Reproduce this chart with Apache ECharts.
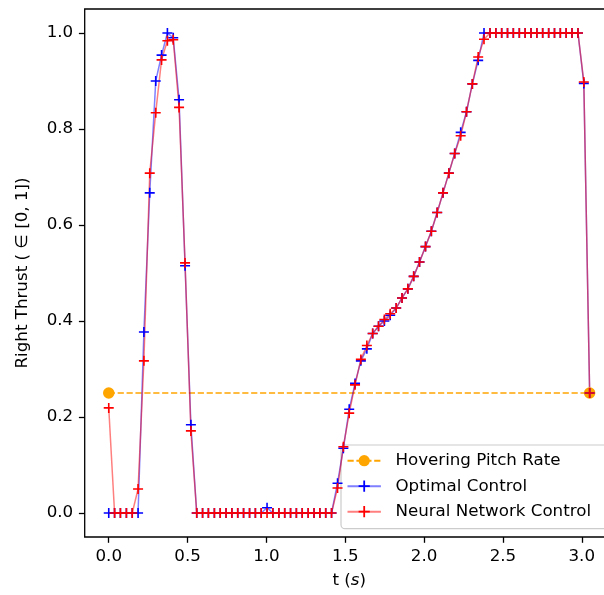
<!DOCTYPE html>
<html>
<head>
<meta charset="utf-8">
<script src="https://cdn.jsdelivr.net/npm/echarts@6/dist/echarts.min.js"></script>
<style>
html,body{margin:0;padding:0;background:#fff;}
#c{width:604px;height:595px;}
</style>
</head>
<body>
<div id="c"></div>
<script>
// time grid (s)
const tValues = [0.000,0.037,0.074,0.112,0.149,0.186,0.223,0.260,0.298,0.335,
 0.372,0.409,0.446,0.484,0.521,0.558,0.595,0.632,0.670,0.707,
 0.744,0.781,0.818,0.855,0.893,0.930,0.967,1.004,1.041,1.079,
 1.116,1.153,1.190,1.227,1.265,1.302,1.339,1.376,1.413,1.451,
 1.488,1.525,1.562,1.599,1.637,1.674,1.711,1.748,1.785,1.823,
 1.860,1.897,1.934,1.971,2.009,2.046,2.083,2.120,2.157,2.194,
 2.232,2.269,2.306,2.343,2.380,2.418,2.455,2.492,2.529,2.566,
 2.604,2.641,2.678,2.715,2.752,2.790,2.827,2.864,2.901,2.938,
 2.976,3.013,3.050];

const optimalControl = [0,0,0,0,0,0,0.377,0.667,0.900,0.954,
 1.000,0.990,0.861,0.515,0.184,0,0,0,0,0,
 0,0,0,0,0,0,0,0.011,0,0,
 0,0,0,0,0,0,0,0,0,0.062,
 0.135,0.216,0.270,0.317,0.342,0.374,0.389,0.400,0.412,0.427,
 0.448,0.467,0.493,0.523,0.555,0.587,0.626,0.667,0.708,0.749,
 0.793,0.836,0.894,0.943,1.000,1,1,1,1,1,
 1,1,1,1,1,1,1,1,1,1,
 1,0.895,0.250];

const neuralNetworkControl = [0.219,0,0,0,0,0.050,0.317,0.708,0.834,0.944,
 0.984,0.986,0.845,0.521,0.171,0,0,0,0,0,
 0,0,0,0,0,0,0,0,0,0,
 0,0,0,0,0,0,0,0,0,0.052,
 0.138,0.208,0.267,0.320,0.349,0.374,0.389,0.403,0.415,0.427,
 0.448,0.467,0.493,0.523,0.555,0.587,0.626,0.667,0.708,0.749,
 0.786,0.836,0.894,0.950,0.987,1,1,1,1,1,
 1,1,1,1,1,1,1,1,1,1,
 1,0.898,0.250];

const hoverT = [0.0, 3.05];
const hoverValue = [0.25, 0.25];

const xTicks = [0.0, 0.5, 1.0, 1.5, 2.0, 2.5, 3.0];
const yTicks = [0.0, 0.2, 0.4, 0.6, 0.8, 1.0];

const seriesNames = ['Hovering Pitch Rate', 'Optimal Control', 'Neural Network Control'];

function zip(xs, ys){ return xs.map((x,i)=>[x, ys[i]]); }

const FONT = 'DejaVu Sans';
const FS = 16.7;
const PLUS = 'path://M4.2,0H5.8V4.2H10V5.8H5.8V10H4.2V5.8H0V4.2H4.2Z';

const chart = echarts.init(document.getElementById('c'), null, {renderer:'canvas'});
chart.setOption({
  animation:false,
  textStyle:{fontFamily:FONT},
  grid:{left:84.7, top:9, width:529, height:528, show:true, borderColor:'#000', borderWidth:1.3,
    backgroundColor:'transparent', containLabel:false, outerBoundsMode:'none'},
  xAxis:{
    type:'value', min:-0.1525, max:3.2025,
    axisLine:{show:false, onZero:false},
    splitLine:{show:false},
    axisTick:{show:true, length:5.8, inside:false, customValues:xTicks, lineStyle:{color:'#000', width:1.3}},
    axisLabel:{customValues:xTicks, margin:11.5, color:'#000', fontFamily:FONT, fontSize:FS,
      formatter:(v)=>Number(v).toFixed(1)},
    name:'{n|t (}{i|s}{n|)}', nameLocation:'middle', nameGap:35.5,
    nameTextStyle:{color:'#000', fontFamily:FONT, fontSize:FS,
      rich:{n:{fontFamily:FONT, fontSize:FS, color:'#000'}, i:{fontFamily:FONT, fontSize:FS, fontStyle:'italic', color:'#000'}}}
  },
  yAxis:{
    type:'value', min:-0.05, max:1.05,
    axisLine:{show:false, onZero:false},
    splitLine:{show:false},
    axisTick:{show:true, length:5.8, inside:false, customValues:yTicks, lineStyle:{color:'#000', width:1.3}},
    axisLabel:{customValues:yTicks, margin:11.5, color:'#000', fontFamily:FONT, fontSize:FS,
      formatter:(v)=>Number(v).toFixed(1)},
    name:'Right Thrust ( \u2208 [0, 1])', nameLocation:'middle', nameGap:54,
    nameTextStyle:{color:'#000', fontFamily:FONT, fontSize:FS}
  },
  graphic:[{
    type:'rect', z:3, silent:true,
    shape:{x:341, y:445, width:280, height:83.7, r:4},
    style:{fill:'rgba(255,255,255,0.8)', stroke:'#cccccc', lineWidth:1.2}
  }],
  legend:{
    show:true, orient:'vertical', left:341, top:445, z:5,
    padding:[7.2, 10, 8.5, 5.5],
    itemWidth:33.4, itemHeight:14, itemGap:8.5,
    backgroundColor:'transparent', borderWidth:0,
    selectedMode:false,
    textStyle:{fontFamily:FONT, fontSize:FS, color:'#000', lineHeight:17, padding:[0,0,0,9.5]},
    data:seriesNames
  },
  series:[
    {
      name:seriesNames[0], type:'line', data:zip(hoverT, hoverValue),
      symbol:'circle', symbolSize:11.5, showAllSymbol:true,
      lineStyle:{color:'#ffa500', width:1.6, type:[6.2,2.7]},
      itemStyle:{color:'#ffa500', borderWidth:0},
      emphasis:{disabled:true}
    },
    {
      name:seriesNames[1], type:'line', data:zip(tValues, optimalControl),
      symbol:PLUS, symbolSize:10, showAllSymbol:true,
      lineStyle:{color:'#0000ff', width:1.5, opacity:0.5},
      itemStyle:{color:'#0000ff', borderWidth:0},
      emphasis:{disabled:true}
    },
    {
      name:seriesNames[2], type:'line', data:zip(tValues, neuralNetworkControl),
      symbol:PLUS, symbolSize:10, showAllSymbol:true,
      lineStyle:{color:'#ff0000', width:1.5, opacity:0.5},
      itemStyle:{color:'#ff0000', borderWidth:0},
      emphasis:{disabled:true}
    }
  ]
});
</script>
</body>
</html>
